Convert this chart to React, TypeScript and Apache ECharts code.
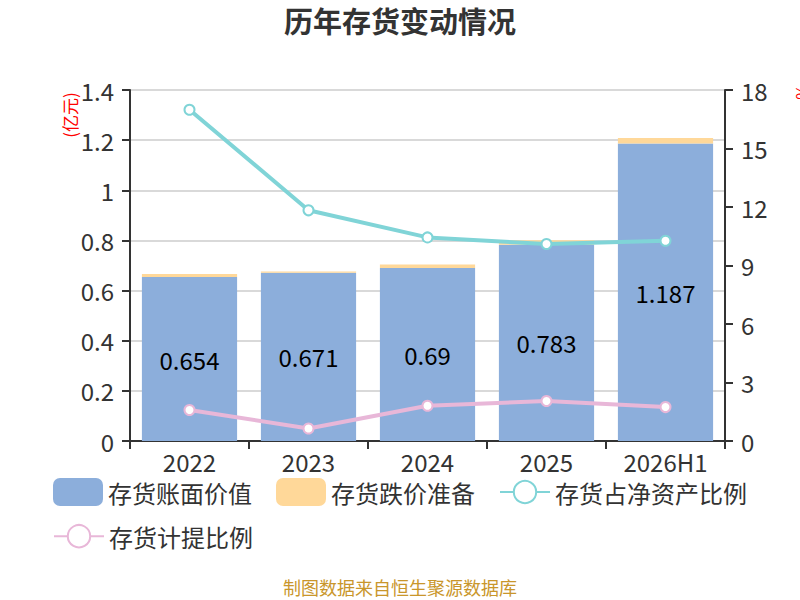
import React, { useEffect, useRef } from "react";
import * as echarts from "echarts";

const categories = ["2022", "2023", "2024", "2025", "2026H1"];
const bookValue = [0.654, 0.671, 0.69, 0.783, 1.187];
const impairment = [0.012, 0.005, 0.014, 0.018, 0.022];
const netAssetRatio = [16.99, 11.83, 10.44, 10.1, 10.27];
const provisionRatio = [1.59, 0.64, 1.81, 2.05, 1.74];

const FONT = "'Noto Sans CJK SC', 'Noto Sans', sans-serif";

export default function App() {
  const ref = useRef<HTMLDivElement>(null);
  useEffect(() => {
    document.body.style.margin = "0";
    const chart = echarts.init(ref.current!, null, { renderer: "svg" });
    const legendBase = {
      left: 48,
      itemWidth: 50,
      itemHeight: 28,
      itemGap: 24,
      textStyle: { fontSize: 24, lineHeight: 22, color: "#333", fontFamily: FONT },
    };
    chart.setOption({
      animation: false,
      backgroundColor: "#fff",
      textStyle: { fontFamily: FONT },
      title: {
        text: "历年存货变动情况",
        left: "center",
        top: 0,
        textStyle: { fontSize: 29, fontWeight: "bold", color: "#333", fontFamily: FONT },
      },
      grid: { left: 130, right: 75, top: 90, bottom: 159, containLabel: false },
      legend: [
        {
          ...legendBase,
          top: 473,
          data: [
            { name: "存货账面价值", icon: "roundRect" },
            { name: "存货跌价准备", icon: "roundRect" },
            { name: "存货占净资产比例" },
          ],
        },
        {
          ...legendBase,
          top: 519,
          data: [{ name: "存货计提比例" }],
        },
      ],
      xAxis: {
        type: "category",
        data: categories,
        axisLine: { lineStyle: { color: "#333", width: 2 } },
        axisTick: { show: true, length: 8, lineStyle: { color: "#333", width: 2 } },
        axisLabel: { fontSize: 24, lineHeight: 22, color: "#333", margin: 9, fontFamily: FONT },
      },
      yAxis: [
        {
          type: "value",
          min: 0,
          max: 1.4,
          interval: 0.2,
          axisLine: { show: true, lineStyle: { color: "#333", width: 2 } },
          axisTick: { show: true, length: 8, lineStyle: { color: "#333", width: 2 } },
          axisLabel: { fontSize: 24, color: "#333", margin: 16, fontFamily: FONT },
          splitLine: { lineStyle: { color: "#ccc", width: 1.5 } },
        },
        {
          type: "value",
          min: 0,
          max: 18,
          interval: 3,
          axisLine: { show: true, lineStyle: { color: "#333", width: 2 } },
          axisTick: { show: true, length: 8, lineStyle: { color: "#333", width: 2 } },
          axisLabel: { fontSize: 24, color: "#333", margin: 16, fontFamily: FONT },
          splitLine: { show: false },
        },
      ],
      series: [
        {
          name: "存货账面价值",
          type: "bar",
          stack: "inv",
          data: bookValue,
          barCategoryGap: "20%",
          itemStyle: { color: "#8caedb" },
          label: {
            show: true,
            position: "inside",
            fontSize: 24,
            color: "#000",
            fontFamily: FONT,
          },
        },
        {
          name: "存货跌价准备",
          type: "bar",
          stack: "inv",
          data: impairment,
          barCategoryGap: "20%",
          itemStyle: { color: "#ffd899" },
        },
        {
          name: "存货占净资产比例",
          type: "line",
          yAxisIndex: 1,
          data: netAssetRatio,
          symbol: "emptyCircle",
          symbolSize: 10,
          lineStyle: { color: "#80d4d7", width: 4 },
          itemStyle: { color: "#80d4d7", borderWidth: 2 },
          z: 5,
        },
        {
          name: "存货计提比例",
          type: "line",
          yAxisIndex: 1,
          data: provisionRatio,
          symbol: "emptyCircle",
          symbolSize: 10,
          lineStyle: { color: "#e8b7d8", width: 4 },
          itemStyle: { color: "#e8b7d8", borderWidth: 2 },
          z: 5,
        },
      ],
      graphic: [
        {
          type: "text",
          x: 69,
          y: 115,
          rotation: Math.PI / 2,
          style: {
            text: "(亿元)",
            fill: "#ff0000",
            fontSize: 17,
            fontFamily: FONT,
            align: "center",
            verticalAlign: "middle",
          },
        },
        {
          type: "text",
          x: 801,
          y: 92,
          rotation: Math.PI / 2,
          style: {
            text: "%",
            fill: "#ff0000",
            fontSize: 17,
            fontFamily: FONT,
            align: "center",
            verticalAlign: "middle",
          },
        },
        {
          type: "text",
          x: 400,
          y: 587,
          style: {
            text: "制图数据来自恒生聚源数据库",
            fill: "#c9962b",
            fontSize: 18,
            fontFamily: FONT,
            align: "center",
            verticalAlign: "middle",
          },
        },
      ],
    });
    return () => chart.dispose();
  }, []);
  return <div ref={ref} style={{ width: 800, height: 600 }} />;
}
